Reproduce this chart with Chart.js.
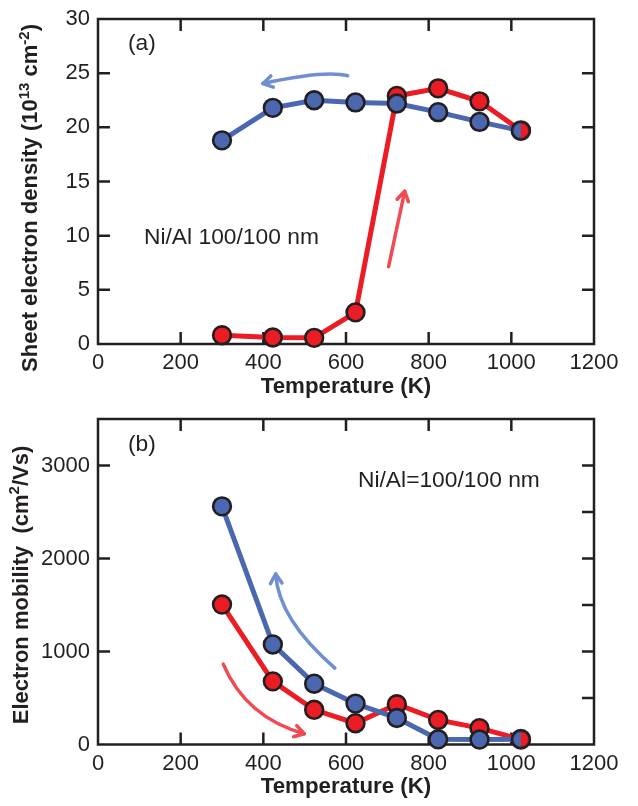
<!DOCTYPE html>
<html><head><meta charset="utf-8">
<script src="https://cdn.jsdelivr.net/npm/chart.js@4.4.1/dist/chart.umd.min.js"></script>
<style>
html,body{margin:0;padding:0;background:#fff;}
#wrap{position:relative;width:638px;height:806px;}
.box{position:absolute;left:0;width:638px;}
</style></head><body>
<div id="wrap">
<div class="box" style="top:0;height:400px"><canvas id="c1"></canvas></div>
<div class="box" style="top:400px;height:406px"><canvas id="c2"></canvas></div>
</div>
<script>
// ---- data ----
const temperatures = [300, 423, 523, 623, 723, 823, 923, 1023];
const densityHeating = [0.81, 0.6, 0.57, 2.92, 22.9, 23.6, 22.4, 19.7];
const densityCooling = [18.8, 21.8, 22.5, 22.3, 22.2, 21.4, 20.5, 19.7];
const mobilityHeating = [1505, 679, 373, 229, 433, 264, 176, 56];
const mobilityCooling = [2561, 1076, 654, 440, 285, 56, 53, 56];
const temperatureTicks = [0, 200, 400, 600, 800, 1000, 1200];
const densityTicks = [0, 5, 10, 15, 20, 25, 30];
const mobilityTicks = [0, 1000, 2000, 3000];
const mobilityMinorTicks = [500, 1000, 1500, 2000, 2500, 3000];

// ---- styles ----
const FONT = '"Liberation Sans", Arial, Helvetica, sans-serif';
const INK = '#231f20';
const BLUE = '#4a67b0';
const RED = '#ec1c24';
const BLUE_ARROW = '#6f8fd0';
const RED_ARROW = '#f04a52';
const R = 8.9, BW = 2.6;

function halfMarker(r, bw, left, right, border) {
  const s = 2 * Math.ceil(r + bw + 1);
  const c = document.createElement('canvas');
  c.width = s; c.height = s;
  const g = c.getContext('2d'); const m = s / 2;
  g.fillStyle = left; g.beginPath(); g.moveTo(m, m); g.arc(m, m, r, Math.PI / 2, Math.PI * 1.5); g.closePath(); g.fill();
  g.fillStyle = right; g.beginPath(); g.moveTo(m, m); g.arc(m, m, r, -Math.PI / 2, Math.PI / 2); g.closePath(); g.fill();
  g.lineWidth = bw; g.strokeStyle = border; g.beginPath(); g.arc(m, m, r, 0, 2 * Math.PI); g.stroke();
  return c;
}
const splitMarker = halfMarker(R, BW, BLUE, RED, INK);

function series(vals) { return temperatures.map((t, i) => ({x: t, y: vals[i]})); }

function ds(label, vals, color, split) {
  const last = vals.length - 1;
  return {
    label, data: series(vals),
    borderColor: color, borderWidth: 5, tension: 0,
    pointRadius: R, pointBorderWidth: BW, pointBorderColor: INK,
    pointBackgroundColor: color, clip: false,
    pointStyle: split ? (c => c.dataIndex === last ? splitMarker : 'circle') : 'circle'
  };
}

const framePlugin = {
  id: 'frame',
  beforeDatasetsDraw(chart, args, o) {
    const {ctx, chartArea: a, scales: {x, y}} = chart;
    ctx.save();
    ctx.strokeStyle = INK; ctx.lineWidth = 2.5; ctx.lineCap = 'butt';
    ctx.beginPath();
    (o.xMarks || []).forEach(v => {
      const px = x.getPixelForValue(v);
      ctx.moveTo(px, a.top); ctx.lineTo(px, a.top + o.len);
      ctx.moveTo(px, a.bottom); ctx.lineTo(px, a.bottom - o.len);
    });
    (o.leftMarks || []).forEach(v => {
      const py = y.getPixelForValue(v);
      ctx.moveTo(a.left, py); ctx.lineTo(a.left + o.len, py);
    });
    (o.rightMarks || []).forEach(v => {
      const py = y.getPixelForValue(v);
      ctx.moveTo(a.right, py); ctx.lineTo(a.right - o.len, py);
    });
    ctx.stroke();
    ctx.strokeRect(a.left, a.top, a.right - a.left, a.bottom - a.top);
    ctx.restore();
  }
};

const notesPlugin = {
  id: 'notes',
  afterDatasetsDraw(chart, args, o) {
    const {ctx, scales: {x, y}} = chart;
    ctx.save();
    (o.arrows || []).forEach(ar => {
      const p0 = [x.getPixelForValue(ar.from[0]), y.getPixelForValue(ar.from[1])];
      const p2 = [x.getPixelForValue(ar.to[0]), y.getPixelForValue(ar.to[1])];
      const c = ar.ctrl ? [x.getPixelForValue(ar.ctrl[0]), y.getPixelForValue(ar.ctrl[1])] : null;
      ctx.strokeStyle = ar.color; ctx.lineWidth = 3.5; ctx.lineCap = 'round'; ctx.lineJoin = 'round';
      ctx.beginPath(); ctx.moveTo(p0[0], p0[1]);
      if (c) ctx.quadraticCurveTo(c[0], c[1], p2[0], p2[1]); else ctx.lineTo(p2[0], p2[1]);
      ctx.stroke();
      const from = c || p0;
      const ang = Math.atan2(p2[1] - from[1], p2[0] - from[0]);
      const L = 11, sp = 0.55;
      ctx.beginPath();
      ctx.moveTo(p2[0] - L * Math.cos(ang - sp), p2[1] - L * Math.sin(ang - sp));
      ctx.lineTo(p2[0], p2[1]);
      ctx.lineTo(p2[0] - L * Math.cos(ang + sp), p2[1] - L * Math.sin(ang + sp));
      ctx.stroke();
    });
    ctx.restore();
  },
  afterDraw(chart, args, o) {
    const {ctx} = chart;
    ctx.save();
    ctx.fillStyle = INK; ctx.textBaseline = 'alphabetic'; ctx.textAlign = 'left';
    (o.texts || []).forEach(t => {
      ctx.font = '22.8px ' + FONT;
      ctx.fillText(t.text, t.x, t.y);
    });
    if (o.ytitle) {
      const yt = o.ytitle;
      ctx.translate(yt.x, yt.y); ctx.rotate(-Math.PI / 2);
      const fontFor = r => 'bold ' + (r.sup ? 15 : 22) + 'px ' + FONT;
      let total = 0;
      yt.runs.forEach(r => { ctx.font = fontFor(r); total += ctx.measureText(r.t).width; });
      let cx = -total / 2;
      yt.runs.forEach(r => {
        ctx.font = fontFor(r);
        ctx.fillText(r.t, cx, r.sup ? -8.5 : 0);
        cx += ctx.measureText(r.t).width;
      });
    }
    ctx.restore();
  }
};

function makeChart(id, cfg) {
  return new Chart(document.getElementById(id), {
    type: 'line',
    data: {datasets: [ds('cooling', cfg.cooling, BLUE, true), ds('heating', cfg.heating, RED, false)]},
    plugins: [framePlugin, notesPlugin],
    options: {
      responsive: true, maintainAspectRatio: false, animation: false, events: [],
      layout: {padding: {top: cfg.padTop, right: 44, left: 0, bottom: 0}},
      plugins: {
        legend: {display: false}, tooltip: {enabled: false},
        frame: {len: 12, xMarks: [200, 400, 600, 800, 1000], leftMarks: cfg.leftMarks, rightMarks: cfg.rightMarks},
        notes: cfg.notes
      },
      scales: {
        x: {
          type: 'linear', min: 0, max: 1200,
          afterBuildTicks: s => { s.ticks = temperatureTicks.map(v => ({value: v})); },
          afterFit: s => { s.height = cfg.xHeight; },
          grid: {display: false, drawTicks: false}, border: {display: false},
          ticks: {font: {family: FONT, size: 22}, color: INK, padding: 6, autoSkip: false, maxRotation: 0, callback: v => String(v)},
          title: {display: true, text: 'Temperature (K)', color: INK, font: {family: FONT, size: 22.3, weight: 'bold', lineHeight: 1}, padding: {top: 0, bottom: cfg.titlePad}}
        },
        y: {
          type: 'linear', min: cfg.ymin, max: cfg.ymax,
          afterBuildTicks: s => { s.ticks = cfg.yTicks.map(v => ({value: v})); },
          afterFit: s => { s.width = 98; },
          grid: {display: false, drawTicks: false}, border: {display: false},
          ticks: {font: {family: FONT, size: 22, lineHeight: 1}, color: INK, padding: 8, autoSkip: false, callback: v => String(v)}
        }
      }
    }
  });
}

makeChart('c1', {
  cooling: densityCooling, heating: densityHeating,
  ymin: 0, ymax: 30, yTicks: densityTicks, padTop: 11.5, xHeight: 56, titlePad: 1.5,
  leftMarks: [5, 10, 15, 20, 25], rightMarks: [5, 10, 15, 20, 25],
  notes: {
    arrows: [
      {color: BLUE_ARROW, from: [604, 24.76], ctrl: [549, 25.3], to: [399, 24.04]},
      {color: RED_ARROW, from: [703, 7.14], to: [742, 14.1]}
    ],
    texts: [{text: '(a)', x: 128, y: 50}, {text: 'Ni/Al 100/100 nm', x: 144, y: 244}],
    ytitle: {x: 37, y: 198, runs: [{t: 'Sheet electron density (10'}, {t: '13', sup: true}, {t: ' cm'}, {t: '-2', sup: true}, {t: ')'}]}
  }
});

makeChart('c2', {
  cooling: mobilityCooling, heating: mobilityHeating,
  ymin: 0, ymax: 3500, yTicks: mobilityTicks, padTop: 13, xHeight: 61.5, titlePad: 7.5,
  leftMarks: [1000, 2000, 3000], rightMarks: mobilityMinorTicks,
  notes: {
    arrows: [
      {color: BLUE_ARROW, from: [573, 822], ctrl: [436, 1349], to: [430, 1834]},
      {color: RED_ARROW, from: [303, 864], ctrl: [358, 290], to: [499, 116]}
    ],
    texts: [{text: '(b)', x: 128, y: 50.5}, {text: 'Ni/Al=100/100 nm', x: 358, y: 87}],
    ytitle: {x: 27.5, y: 185, runs: [{t: 'Electron mobility  (cm'}, {t: '2', sup: true}, {t: '/Vs)'}]}
  }
});
</script>
</body></html>
